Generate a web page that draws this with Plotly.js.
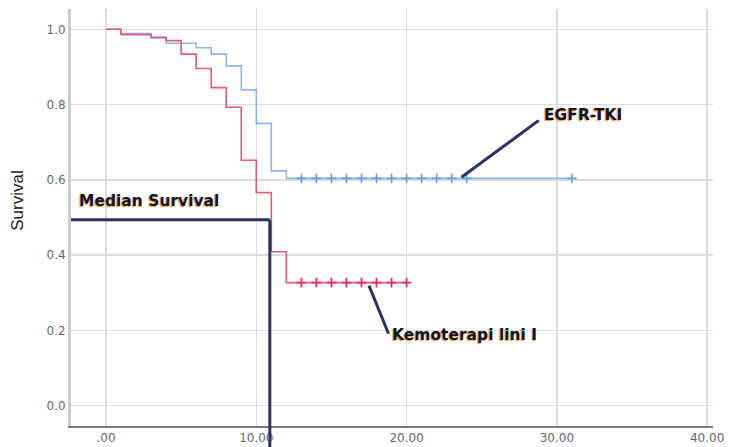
<!DOCTYPE html>
<html>
<head>
<meta charset="utf-8">
<script src="https://cdn.plot.ly/plotly-3.0.1.min.js"></script>
<style>html,body{margin:0;padding:0;background:#fff;}#chart{width:732px;height:447px;}</style>
</head>
<body>
<div id="chart"></div>
<script>
// EGFR-TKI Kaplan-Meier steps
const egfrTimes = [0, 1, 3, 4, 6, 7, 8, 9, 10, 11, 12, 31];
const egfrSurv  = [1.0, 0.989, 0.979, 0.963, 0.951, 0.934, 0.903, 0.839, 0.750, 0.624, 0.604, 0.604];
const egfrCensorTimes = [13, 14, 15, 16, 17, 18, 19, 20, 21, 22, 23, 24, 31];
const egfrCensorSurv  = [0.604, 0.604, 0.604, 0.604, 0.604, 0.604, 0.604, 0.604, 0.604, 0.604, 0.604, 0.604, 0.604];

// Kemoterapi lini I Kaplan-Meier steps
const kemoTimes = [0, 1, 3, 4, 5, 6, 7, 8, 9, 10, 11, 12, 20];
const kemoSurv  = [1.0, 0.986, 0.978, 0.970, 0.934, 0.896, 0.845, 0.793, 0.652, 0.566, 0.409, 0.327, 0.327];
const kemoCensorTimes = [13, 14, 15, 16, 17, 18, 19, 20];
const kemoCensorSurv  = [0.327, 0.327, 0.327, 0.327, 0.327, 0.327, 0.327, 0.327];

// Median survival reference
const medianTime = 10.9;
const medianSurv = 0.494;

// Axis ticks
const xTickVals = [0, 10, 20, 30, 40];
const xTickLabels = ['.00', '10.00', '20.00', '30.00', '40.00'];
const yTickVals = [0, 0.2, 0.4, 0.6, 0.8, 1.0];
const yTickLabels = ['0.0', '0.2', '0.4', '0.6', '0.8', '1.0'];

// Labels
const labelMedian = 'Median Survival';
const labelEgfr = 'EGFR-TKI';
const labelKemo = 'Kemoterapi lini I';
const yTitle = 'Survival';

const navy = '#2b3266';
const labelFont = {family: 'DejaVu Sans', size: 15.5, color: '#10142a', weight: 'bold', shadow: '-1px 1px 1px #e8962e'};

const traces = [
  {x: egfrTimes, y: egfrSurv, mode: 'lines', line: {shape: 'hv', color: '#8db6ee', width: 1.6}, hoverinfo: 'skip'},
  {x: kemoTimes, y: kemoSurv, mode: 'lines', line: {shape: 'hv', color: '#e8587a', width: 1.6}, hoverinfo: 'skip'},
  {x: egfrCensorTimes, y: egfrCensorSurv, mode: 'markers', marker: {symbol: 'cross-thin', size: 7, line: {color: '#6b9fe2', width: 1.6}}, hoverinfo: 'skip'},
  {x: kemoCensorTimes, y: kemoCensorSurv, mode: 'markers', marker: {symbol: 'cross-thin', size: 7, line: {color: '#e4305c', width: 1.8}}, hoverinfo: 'skip'}
];

const layout = {
  width: 732, height: 447,
  margin: {l: 71, r: 19, t: 9, b: 21},
  paper_bgcolor: '#ffffff', plot_bgcolor: '#ffffff',
  showlegend: false,
  xaxis: {
    range: [-2.33, 40.39], tickvals: xTickVals, ticktext: xTickLabels,
    showgrid: true, gridcolor: '#dcdcdc', gridwidth: 1.5, zeroline: false,
    showline: true, linecolor: '#7a7a7a', linewidth: 1.5,
    ticks: '', tickfont: {family: 'DejaVu Sans', size: 12, color: '#666'}
  },
  yaxis: {
    range: [-0.054, 1.054], tickvals: yTickVals, ticktext: yTickLabels,
    showgrid: true, gridcolor: '#dcdcdc', gridwidth: 1.5, zeroline: false,
    showline: true, linecolor: '#cccccc', linewidth: 3,
    ticks: '', tickfont: {family: 'DejaVu Sans', size: 12, color: '#666'}
  },
  shapes: [
    {type: 'line', xref: 'x', yref: 'y', x0: -2.33, x1: medianTime, y0: medianSurv, y1: medianSurv, line: {color: navy, width: 3}},
    {type: 'line', xref: 'x', yref: 'paper', x0: medianTime, x1: medianTime, y0: -0.06, y1: (medianSurv + 0.054) / 1.108, line: {color: navy, width: 3}},
    {type: 'line', xref: 'x', yref: 'y', x0: 23.65, y0: 0.607, x1: 28.8, y1: 0.758, line: {color: navy, width: 3}},
    {type: 'line', xref: 'x', yref: 'y', x0: 17.5, y0: 0.319, x1: 18.8, y1: 0.191, line: {color: navy, width: 3}}
  ],
  annotations: [
    {text: labelMedian, x: -1.93, y: 0.544, xref: 'x', yref: 'y', xanchor: 'left', yanchor: 'middle', showarrow: false, font: labelFont},
    {text: labelEgfr, x: 29.0, y: 0.772, xref: 'x', yref: 'y', xanchor: 'left', yanchor: 'middle', showarrow: false, font: labelFont},
    {text: labelKemo, x: 18.9, y: 0.188, xref: 'x', yref: 'y', xanchor: 'left', yanchor: 'middle', showarrow: false, font: labelFont},
    {text: yTitle, x: -0.0826, y: 0.54, xref: 'paper', yref: 'paper', xanchor: 'center', yanchor: 'middle', textangle: -90, showarrow: false,
     font: {family: 'Liberation Sans', size: 17, color: '#1a1a1a'}}
  ]
};

Plotly.newPlot('chart', traces, layout, {staticPlot: true, displayModeBar: false});
</script>
</body>
</html>
